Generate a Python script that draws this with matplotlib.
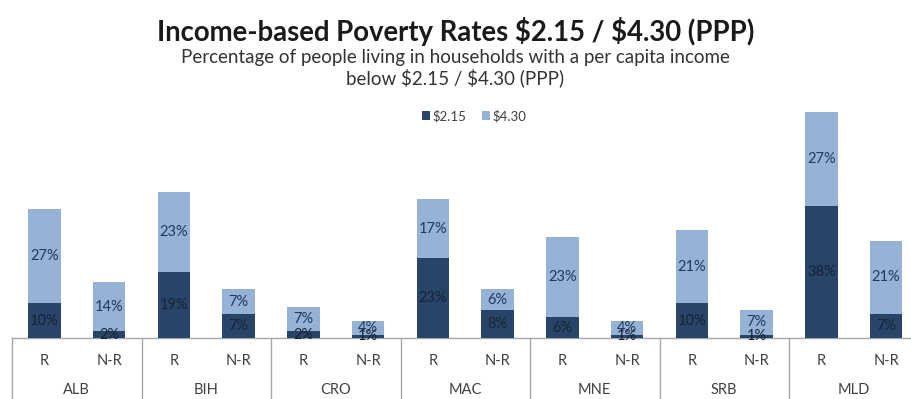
import numpy as np
import matplotlib.pyplot as plt

# Poverty rates by country, rural (R) and non-rural (N-R)
countries = ['ALB', 'BIH', 'CRO', 'MAC', 'MNE', 'SRB', 'MLD']
areas = ['R', 'N-R']
below_215_r = [10, 19, 2, 23, 6, 10, 38]
below_215_nr = [2, 7, 1, 8, 1, 1, 7]
extra_430_r = [27, 23, 7, 17, 23, 21, 27]
extra_430_nr = [14, 7, 4, 6, 4, 7, 21]

low = np.array([v for pair in zip(below_215_r, below_215_nr) for v in pair])
high = np.array([v for pair in zip(extra_430_r, extra_430_nr) for v in pair])
x = np.arange(len(low)) + 0.5

dark = '#284468'
light = '#95B3D7'
txt = '#1F3A5C'
txt_dark = '#142438'

plt.rcParams['font.family'] = ['Lato', 'DejaVu Sans']
plt.rcParams['text.parse_math'] = False

fig = plt.figure(figsize=(9.11, 3.99), dpi=100)
ax = fig.add_axes([12 / 911, 61 / 399, 906.5 / 911, 0.575])

b1 = ax.bar(x, low, width=0.5, color=dark, label='$2.15', zorder=3)
b2 = ax.bar(x, high, width=0.5, bottom=low, color=light, label='$4.30', zorder=3)

for xi, lo, hi in zip(x, low, high):
    ax.text(xi, lo / 2, f'{lo}%', ha='center', va='center', fontsize=10.5,
            color=txt_dark, zorder=4)
    ax.text(xi, lo + hi / 2, f'{hi}%', ha='center', va='center', fontsize=10.5,
            color=txt, zorder=4)

ax.set_xlim(0, 14)
ax.set_ylim(0, 66)
ax.set_xticks([])
ax.set_yticks([])
for s in ax.spines.values():
    s.set_visible(False)

# two-level category axis
grid_c = '#a6a6a6'
ax.plot([0, 14], [0, 0], color=grid_c, lw=1, clip_on=False, zorder=2)
for g in range(len(countries) + 1):
    ax.plot([2 * g, 2 * g], [0, -20], color=grid_c, lw=1, clip_on=False)
for i, xi in enumerate(x):
    ax.text(xi, -6.6, areas[i % 2], ha='center', va='center', fontsize=10.5,
            color='#404040', clip_on=False)
for g, c in enumerate(countries):
    ax.text(2 * g + 1, -15.0, c, ha='center', va='center', fontsize=10.5,
            color='#404040', clip_on=False)

fig.text(0.5, 1 - 31 / 399, 'Income-based Poverty Rates $2.15 / $4.30 (PPP)',
         ha='center', va='center', fontsize=19.8, fontweight='bold', color='#1a1a1a')
fig.text(0.5, 1 - 57 / 399, 'Percentage of people living in households with a per capita income',
         ha='center', va='center', fontsize=13.5, color='#333333')
fig.text(0.5, 1 - 78 / 399, 'below $2.15 / $4.30 (PPP)',
         ha='center', va='center', fontsize=13.5, color='#333333')

fig.legend(handles=[b1, b2], loc='center', bbox_to_anchor=(474 / 911, 1 - 116 / 399),
           ncol=2, frameon=False, fontsize=9.5, handlelength=0.6, handleheight=0.6,
           handletextpad=0.2, columnspacing=1.2, labelcolor='#404040')

fig.savefig('out.png', dpi=100)
